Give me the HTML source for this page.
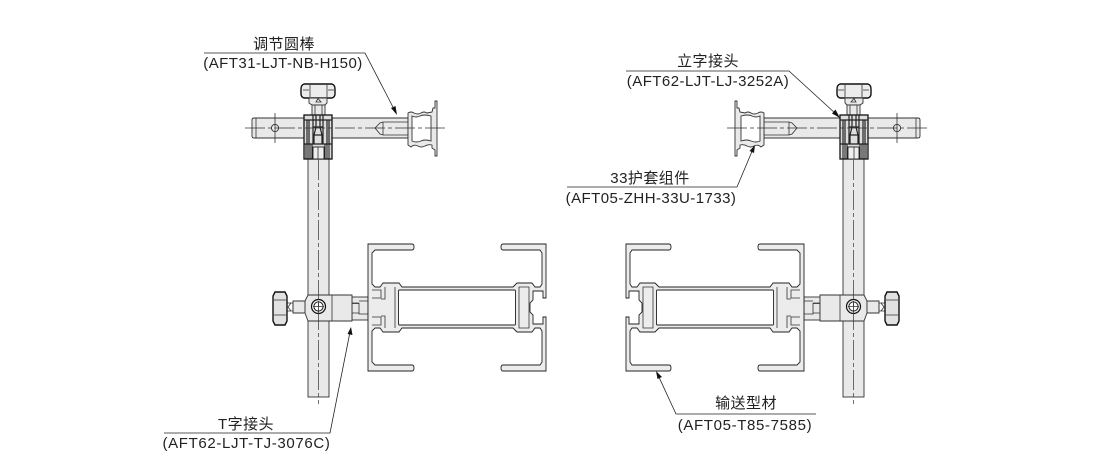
<!DOCTYPE html>
<html><head><meta charset="utf-8"><style>
html,body{margin:0;padding:0;background:#fff}
svg{display:block}
text{font-family:"Liberation Sans","Noto Sans CJK SC",sans-serif;font-size:15px;fill:#222;text-anchor:middle;letter-spacing:.45px}
text.m{letter-spacing:.65px}
.o{stroke:#333;stroke-width:.9;fill:#e9e9e9}
.w{stroke:#333;stroke-width:.9;fill:#fff}
.l{stroke:#333;stroke-width:.8;fill:none}
.d{stroke:#222;stroke-width:1.2;fill:none}
.c{stroke:#333;stroke-width:.7;fill:none;stroke-dasharray:20 3 4 3}
.t{stroke:#222;stroke-width:.8;fill:none}
</style></head><body>
<svg width="1110" height="451" viewBox="0 0 1110 451" xmlns="http://www.w3.org/2000/svg">
<defs>
<g id="asm">
  <!-- vertical tube -->
  <rect x="308" y="150" width="21" height="247" class="o"/>
  <!-- horizontal tube -->
  <path d="M254,118 H408 V138 H254 Q252,138 252,136 V120 Q252,118 254,118Z" class="o"/>
  <line x1="256" y1="118" x2="256" y2="138" class="l"/>
  <circle cx="275" cy="128" r="3.6" class="o"/>
  <line x1="275" y1="113" x2="275" y2="143" class="l"/>
  <path d="M408,122 H383 L380,123 L375,128 L380,134 L383,135 H408" class="l"/>
  <line x1="383" y1="122" x2="383" y2="135" class="l"/>
  <!-- flange -->
  <path d="M408,113 Q411,111 414,113 Q418,115 421,113 Q424,111 427,113 L432,112 L433,108 L435,108 V101 H437 V156 H435 V150 L432,148 L432,145 Q428,144 425,146 Q421,148 418,146 Q414,144 411,147 L408,145Z" class="o" stroke-linejoin="round"/>
  <path d="M412,116 Q416,118 420,116 Q424,114 431,116 V141 Q425,139 421,141 Q416,143 412,141Z" class="w"/>
  <!-- knob -->
  <path d="M304,84 H332 Q335,85 335,89 V94 Q335,97 332,98 H304 Q301,97 301,94 V89 Q301,85 304,84Z" fill="#ececec" stroke="#111" stroke-width="1.4"/>
  <path d="M310,85 V97 M327,85 V97 M303,90 H309 M328,90 H334" class="l"/>
  <path d="M309,98 H327 V103 L325,105 H312 L309,103Z" class="o" stroke-width="1.1"/>
  <path d="M316,102 L318,98.500 L321,102Z" class="l"/>
  <rect x="312" y="105" width="13" height="10" class="o" stroke-width="1.1"/>
  <path d="M315,105 V115 M322,105 V115" class="l"/>
  <!-- block -->
  <rect x="304" y="115" width="28" height="44" fill="#dedede" stroke="#111" stroke-width="1.3"/>
  <path d="M304,120 H332 M307,120 V144 M329,120 V144 M313,115 V144 M323,115 V144 M309,120 V144 M327,120 V144" class="d" stroke-width=".9"/>
  <path d="M316,115 V127 L314,135 V144 M320,115 V127 L322,135 V144 M313,127 H323 M314,135 H322" class="d"/>
  <path d="M304,144 H332" class="d"/>
  <path d="M306,144 V159 M308,144 V159 M310,144 V159 M312,144 V159 M325,144 V159 M327,144 V159 M329,144 V159" stroke="#111" stroke-width="1"/>
  <rect x="313" y="147" width="11" height="12" fill="#efefef" stroke="#222" stroke-width=".9"/>
  <line x1="318" y1="147" x2="318" y2="159" class="l"/>
  <!-- lower connector -->
  <rect x="352" y="297" width="16" height="23" class="o"/>
  <path d="M352,303 H359 M352,303.500 H359 V313 H352 M359,303 V314 H368 M359,301 H368" class="l"/>
  <path d="M332,295 H352 V321 H332 H308 L305,313 V301 L308,295Z" class="o"/>
  <line x1="332" y1="295" x2="332" y2="321" class="l"/>
  <circle cx="318.500" cy="306.500" r="7" fill="#eee" stroke="#111" stroke-width="1.2"/>
  <circle cx="318.500" cy="306.500" r="4.600" fill="#fff" stroke="#222" stroke-width="1"/>
  <path d="M318.500,301 V312 M313,306.500 H324" class="l"/>
  <!-- lower knob -->
  <path d="M293,301 H305 V313 H293Z" class="o" stroke-width="1"/>
  <path d="M287,303 H293 V311 H287Z M291,303 L288,307 L291,311" class="l"/>
  <path d="M275,292 H285 L287,296 V321 L285,325 H275 L273,321 V296Z" fill="#e2e2e2" stroke="#111" stroke-width="1.4"/>
  <path d="M274,300 H286 M274,315 H286" class="l"/>
  <!-- centre lines -->
  <line x1="245" y1="128" x2="445" y2="128" class="c"/>
  <line x1="318.500" y1="160" x2="318.500" y2="404" class="c"/>
  <!-- profile -->
  <path fill-rule="evenodd" d="M368,244 H412 Q414,244 414,247 Q414,250 412,250 H375 L372,253 V284 L375,287 H380 L383,283 H399 L402,287 H513 L517,283 H532 L535,287 H540 L542,284 V253 L540,250 H503 Q501,250 501,247 Q501,244 503,244 H546 V298 H543 V291 H533 V300 L530,303 V312 L533,315 V324 H543 V317 H546 V371 H503 Q501,371 501,368 Q501,365 503,365 H540 L542,362 V331 L540,328 H535 L532,332 H517 L513,328 H402 L399,332 H383 L380,328 H375 L372,331 V362 L375,365 H412 Q414,365 414,368 Q414,371 412,371 H368Z" fill="#ececec" stroke="#222" stroke-width=".9"/>
  <rect x="398.500" y="290" width="117" height="35" rx="1" fill="#fff" stroke="#222" stroke-width=".9"/>
  <path d="M372,290 H381 V298 H372 M372,325 H381 V317 H372" class="l" stroke-width=".9"/>
  <path d="M395,287 V328 M385,287 V299 H381 M385,328 V316 H381" class="l" stroke-width=".9"/>
  <path d="M519,287 V328 H529 V287Z" class="l" stroke-width=".9"/>
</g>
</defs>
<use href="#asm"/>
<use href="#asm" transform="translate(1172,0) scale(-1,1)"/>

<!-- leaders -->
<path d="M204,53 H365 L395,111" class="t"/>
<path d="M397,115 L391,108 L395.500,106Z" fill="#111"/>
<path d="M626,71 H789 L836,114" class="t"/>
<path d="M840,118 L832,113.500 L835.500,109.500Z" fill="#111"/>
<path d="M567,187 H737 L753,149" class="t"/>
<path d="M755,145 L754,153 L749.500,151Z" fill="#111"/>
<path d="M164,433 H330 L350,332" class="t"/>
<path d="M351,327 L352.500,335 L347.500,334Z" fill="#111"/>
<path d="M816,414 H676 L658,375" class="t"/>
<path d="M656,371 L662,377 L657.500,379Z" fill="#111"/>

<text x="284" y="49">调节圆棒</text>
<text x="283" y="68">(AFT31-LJT-NB-H150)</text>
<text x="708" y="66">立字接头</text>
<text x="708" y="86">(AFT62-LJT-LJ-3252A)</text>
<text x="650" y="183">33护套组件</text>
<text x="651" y="203">(AFT05-ZHH-33U-1733)</text>
<text x="246" y="429">T字接头</text>
<text class="m" x="246.500" y="448">(AFT62-LJT-TJ-3076C)</text>
<text x="746" y="408">输送型材</text>
<text class="m" x="745" y="430">(AFT05-T85-7585)</text>
</svg>
</body></html>
